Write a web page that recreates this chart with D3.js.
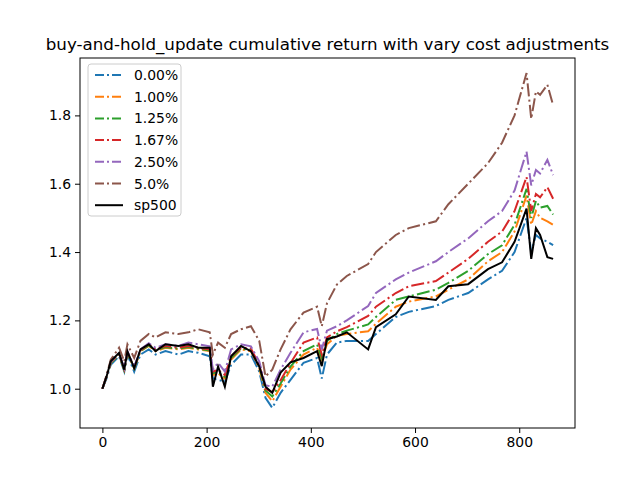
<!DOCTYPE html>
<html>
<head>
<meta charset="utf-8">
<script src="https://cdn.jsdelivr.net/npm/d3@7"></script>
<style>
  body { margin: 0; background: #fff; }
  svg { font-family: "DejaVu Sans", sans-serif; }
</style>
</head>
<body>
<svg id="chart" width="640" height="480"></svg>
<script>
// sample positions (day index)
const steps = [0,8,16,32,42,48,61,73,89,102,121,146,165,184,206,212,222,235,247,266,285,301,313,326,342,361,386,412,421,431,450,469,510,525,563,588,640,664,702,740,767,791,814,823,832,840,854,865];

const cost000 = [1.00,1.03,1.07,1.095,1.05,1.10,1.05,1.10,1.115,1.10,1.11,1.10,1.11,1.105,1.095,1.03,1.026,1.02,1.07,1.10,1.10,1.05,0.973,0.944,0.988,1.026,1.076,1.09,1.03,1.10,1.135,1.14,1.14,1.16,1.21,1.225,1.242,1.26,1.28,1.32,1.345,1.40,1.50,1.40,1.45,1.44,1.43,1.42];
const cost100 = [1.00,1.035,1.075,1.10,1.055,1.105,1.06,1.11,1.125,1.11,1.12,1.115,1.12,1.115,1.11,1.04,1.045,1.03,1.085,1.115,1.11,1.06,0.988,0.963,1.006,1.056,1.10,1.12,1.085,1.13,1.155,1.16,1.168,1.19,1.24,1.255,1.27,1.29,1.32,1.373,1.40,1.46,1.565,1.48,1.52,1.50,1.49,1.48];
const cost125 = [1.00,1.035,1.075,1.10,1.055,1.105,1.06,1.11,1.127,1.112,1.122,1.117,1.122,1.117,1.112,1.045,1.05,1.035,1.09,1.118,1.113,1.065,0.995,0.977,1.015,1.065,1.11,1.13,1.09,1.14,1.16,1.17,1.188,1.21,1.26,1.27,1.29,1.31,1.345,1.394,1.42,1.48,1.585,1.50,1.55,1.53,1.535,1.51];
const cost167 = [1.00,1.036,1.077,1.102,1.057,1.107,1.062,1.112,1.13,1.115,1.125,1.12,1.125,1.12,1.115,1.05,1.055,1.04,1.095,1.12,1.118,1.07,1.00,0.99,1.025,1.075,1.135,1.15,1.10,1.15,1.168,1.18,1.213,1.24,1.28,1.30,1.315,1.34,1.38,1.43,1.46,1.52,1.62,1.52,1.57,1.56,1.59,1.556];
const cost250 = [1.00,1.037,1.078,1.104,1.06,1.11,1.065,1.115,1.133,1.12,1.13,1.125,1.135,1.13,1.124,1.055,1.076,1.05,1.115,1.13,1.124,1.08,1.01,1.006,1.056,1.105,1.165,1.175,1.115,1.17,1.183,1.20,1.242,1.28,1.32,1.34,1.373,1.40,1.44,1.49,1.52,1.58,1.694,1.595,1.64,1.63,1.67,1.625];
const cost500 = [1.00,1.04,1.085,1.12,1.08,1.13,1.09,1.14,1.16,1.15,1.165,1.16,1.165,1.174,1.165,1.10,1.135,1.12,1.16,1.174,1.183,1.14,1.036,1.056,1.115,1.174,1.223,1.24,1.183,1.25,1.305,1.33,1.365,1.40,1.45,1.47,1.49,1.54,1.60,1.66,1.72,1.80,1.924,1.79,1.87,1.86,1.89,1.83];
const sp500 = [1.00,1.036,1.08,1.105,1.056,1.109,1.06,1.115,1.13,1.11,1.13,1.125,1.13,1.12,1.12,1.006,1.065,1.006,1.095,1.125,1.11,1.065,1.006,0.988,1.047,1.077,1.09,1.11,1.066,1.145,1.153,1.165,1.115,1.18,1.218,1.27,1.26,1.30,1.306,1.35,1.37,1.43,1.527,1.38,1.47,1.45,1.385,1.38];

const labels = ['0.00%','1.00%','1.25%','1.67%','2.50%','5.0%','sp500'];
const colors = ['#1f77b4','#ff7f0e','#2ca02c','#d62728','#9467bd','#8c564b','#000000'];
const series = [cost000, cost100, cost125, cost167, cost250, cost500, sp500];
const xTicks = [0,200,400,600,800];
const yTicks = [1.0,1.2,1.4,1.6,1.8];

const margin = { left: 80, right: 65, top: 58, bottom: 52 };
const width = 640 - margin.left - margin.right;
const height = 480 - margin.top - margin.bottom;

const svg = d3.select('#chart');
const g = svg.append('g').attr('transform', `translate(${margin.left},${margin.top})`);

const x = d3.scaleLinear().domain([-43, 907]).range([0, width]);
const y = d3.scaleLinear().domain([0.885, 1.968]).range([height, 0]);

const line = d3.line().x((d) => x(d[0])).y((d) => y(d[1]));

series.forEach((vals, i) => {
  const isBench = i === series.length - 1;
  g.append('path')
    .datum(steps.map((s, j) => [s, vals[j]]))
    .attr('fill', 'none')
    .attr('stroke', colors[i])
    .attr('stroke-width', 2)
    .attr('stroke-dasharray', isBench ? null : '13,3.3,2.1,3.3')
    .attr('d', line);
});

const xAxis = g.append('g').attr('transform', `translate(0,${height})`)
  .call(d3.axisBottom(x).tickValues(xTicks).tickSize(5).tickPadding(4));
const yAxis = g.append('g')
  .call(d3.axisLeft(y).tickValues(yTicks).tickFormat(d3.format('.1f')).tickSize(5).tickPadding(4));
[xAxis, yAxis].forEach((a) => {
  a.select('.domain').remove();
  a.selectAll('text').attr('font-size', 13.9).attr('fill', '#000').attr('font-family', 'DejaVu Sans');
  a.selectAll('line').attr('stroke', '#000');
});

g.append('rect').attr('width', width).attr('height', height)
  .attr('fill', 'none').attr('stroke', '#000').attr('stroke-width', 1);

svg.append('text').attr('x', margin.left + width / 2).attr('y', 50)
  .attr('text-anchor', 'middle').attr('font-size', 16.7).text('buy-and-hold_update cumulative return with vary cost adjustments');

// legend
const lg = g.append('g').attr('transform', 'translate(8,6)');
lg.append('rect').attr('width', 93).attr('height', 152).attr('rx', 3)
  .attr('fill', '#fff').attr('fill-opacity', 0.8).attr('stroke', '#ccc');
labels.forEach((lab, i) => {
  const yy = 11 + i * 21.7;
  lg.append('line').attr('x1', 7).attr('x2', 35).attr('y1', yy).attr('y2', yy)
    .attr('stroke', colors[i]).attr('stroke-width', 2)
    .attr('stroke-dasharray', i === labels.length - 1 ? null : '9,3,2,3');
  lg.append('text').attr('x', 46).attr('y', yy + 5).attr('font-size', 13.9).text(lab);
});
</script>
</body>
</html>
